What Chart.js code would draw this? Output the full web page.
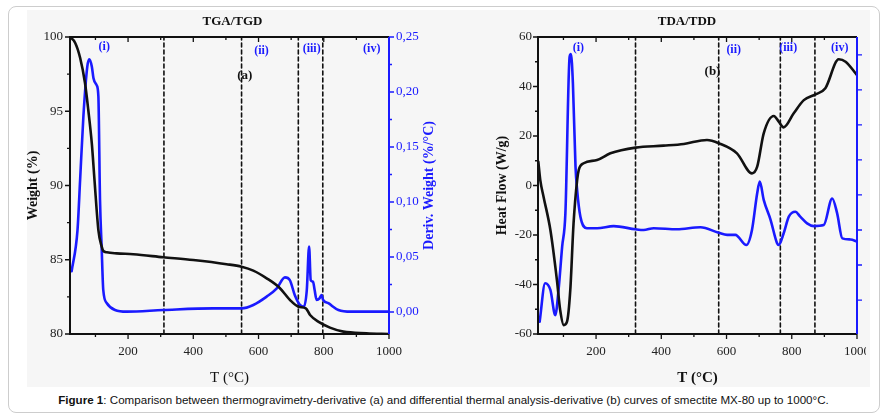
<!DOCTYPE html>
<html>
<head>
<meta charset="utf-8">
<script src="https://cdn.jsdelivr.net/npm/chart.js@4.4.0/dist/chart.umd.min.js"></script>
<style>
  body { margin: 0; background: #fff; }
  #wrap { position: relative; width: 887px; height: 419px; overflow: hidden; }
  #box { position: absolute; left: 8px; top: 6px; width: 870px; height: 405px; border: 1px solid #cdcdcd; border-radius: 8px; }
  #bg { position: absolute; left: 27px; top: 10px; width: 843px; height: 377px; background: #f6f6f6; }
  .clip { position: absolute; top: 0; height: 386px; overflow: hidden; }
  #w1 { left: 0; width: 437px; }
  #w2 { left: 437px; width: 429px; }
  #cap { position: absolute; left: 0; width: 887px; top: 393px; text-align: center;
         font: 11.6px "Liberation Sans", Arial, sans-serif; color: #111; }
</style>
</head>
<body>
<div id="wrap">
  <div id="box"></div>
  <div id="bg"></div>
  <div class="clip" id="w1"><canvas id="tgaChart" width="440" height="387"></canvas></div>
  <div class="clip" id="w2"><canvas id="dtaChart" width="443" height="387"></canvas></div>
  <div id="cap"><b>Figure 1</b>: Comparison between thermogravimetry-derivative (a) and differential thermal analysis-derivative (b) curves of smectite MX-80 up to 1000°C.</div>
</div>
<script>
const SERIF = '"Liberation Serif", "Times New Roman", serif';
const BLUE = '#1a1aff';
const T_MIN = 22, T_MAX = 1000;

// (a) TGA / TGD
const tgaTemp   = [22, 38, 53, 68, 78, 89, 97, 109, 119, 124, 135, 165, 216, 308, 400, 502, 548, 584, 625, 665, 696, 722, 745, 758, 783, 819, 860, 931, 1000];
const tgaWeight = [100, 99.6, 98.6, 96.9, 95.1, 92.8, 90.4, 87.0, 85.9, 85.6, 85.5, 85.43, 85.37, 85.17, 84.98, 84.7, 84.53, 84.27, 83.75, 83.1, 82.3, 81.84, 81.73, 81.28, 80.83, 80.43, 80.16, 80.05, 80.0];
const tgdTemp   = [27, 45, 53, 63, 75, 81, 89, 94, 104, 109, 114, 119, 124, 135, 160, 196, 308, 461, 548, 584, 625, 656, 681, 696, 711, 727, 739, 748, 755, 760, 767, 772, 778, 787, 793, 798, 814, 845, 884, 1000];
const tgdValue  = [0.037, 0.0745, 0.12, 0.1775, 0.223, 0.2297, 0.223, 0.2125, 0.206, 0.196, 0.102, 0.059, 0.02, 0.008, 0.0018, 0.0003, 0.0018, 0.0033, 0.0033, 0.0064, 0.014, 0.0215, 0.0315, 0.029, 0.0155, 0.0064, 0.0048, 0.02, 0.0594, 0.029, 0.0276, 0.02, 0.011, 0.0124, 0.0155, 0.011, 0.008, 0.0018, 0.0003, 0.0003];
const tgaSplits = [310, 548, 722, 797];
const tgaStageT = [127, 609, 763, 947];
const tgaStageY = [99.3, 99.05, 99.2, 99.2];

// (b) TDA / TDD
const tdaTemp = [23, 29, 39, 60, 80, 90, 101, 111, 121, 131, 142, 147, 162, 203, 244, 321, 407, 469, 540, 576, 632, 678, 694, 714, 745, 760, 775, 806, 837, 873, 903, 944, 965, 1000];
const tdaHeat = [9.6, 2.2, -4.5, -18, -38.2, -50.3, -56.4, -55, -42.2, -15.3, 2.2, 6.3, 9, 10.3, 13, 15.3, 16.1, 16.8, 18.4, 17.1, 13, 4.9, 7.6, 21.1, 28.1, 25.8, 23.5, 29.2, 34.5, 36.8, 39.3, 51, 50, 44.6];
const tddTemp = [27, 44, 60, 75, 85, 96, 106, 119, 123, 129, 137, 142, 152, 172, 203, 254, 321, 346, 377, 448, 520, 576, 602, 627, 661, 678, 694, 702, 714, 735, 755, 760, 775, 791, 811, 826, 847, 868, 898, 924, 939, 955, 980, 1000];
const tddValue = [-0.62, 0.48, 0.29, -0.43, 0.29, 1.52, 2.48, 6.95, 7.02, 6.19, 3.81, 3.14, 2.38, 2.05, 2.05, 2.11, 2.02, 2.0, 2.05, 2.02, 2.08, 1.92, 1.86, 1.86, 1.57, 2.0, 3.05, 3.38, 2.86, 2.29, 1.62, 1.57, 1.9, 2.38, 2.52, 2.38, 2.19, 2.11, 2.14, 2.9, 2.48, 1.76, 1.73, 1.67];
const tdaSplits = [321, 576, 765, 871];
const tdaStageT = [146, 622, 789, 947];
const tdaStageY = [55.6, 54.7, 55.6, 55.6];

const stageNames = ['(i)', '(ii)', '(iii)', '(iv)'];

// tick values
const tempMajor   = [200, 400, 600, 800, 1000];
const tempMinor   = [100, 300, 500, 700, 900];
const weightMajor = [80, 85, 90, 95, 100];
const weightMinor = [82.5, 87.5, 92.5, 97.5];
const derivMajor  = [0, 0.05, 0.10, 0.15, 0.20, 0.25];
const derivMinor  = [0.025, 0.075, 0.125, 0.175, 0.225];
const heatMajor   = [-60, -40, -20, 0, 20, 40, 60];
const heatMinor   = [-50, -30, -10, 10, 30, 50];
const tddTicks    = [0, 1, 2, 3, 4, 5, 6, 7];

function pts(xs, ys) { return xs.map((x, i) => ({ x: x, y: ys[i] })); }

function splitLines(list, lo, hi) {
  return list.map(t => ({
    data: [{ x: t, y: lo }, { x: t, y: hi }],
    borderColor: '#111', borderWidth: 1.6, borderDash: [4, 3],
    pointRadius: 0, yAxisID: 'y'
  }));
}

// frame, tick marks, stage labels and the rotated right title
function framePlugin(cfg) {
  return {
    id: 'frame',
    afterDatasetsDraw(chart) {
      const { ctx, chartArea: a, scales } = chart;
      const x = scales.x, y = scales.y, y1 = scales.y1;
      ctx.save();
      ctx.lineCap = 'butt';
      ctx.strokeStyle = '#111';
      ctx.lineWidth = 1.3;
      ctx.beginPath();
      const xt = (list, len) => list.forEach(v => {
        const p = x.getPixelForValue(v);
        ctx.moveTo(p, a.bottom); ctx.lineTo(p, a.bottom + len);
        ctx.moveTo(p, a.top); ctx.lineTo(p, a.top + len);
      });
      xt(tempMajor, 5); xt(tempMinor, 3);
      const yt = (list, len) => list.forEach(v => {
        const p = y.getPixelForValue(v);
        ctx.moveTo(a.left, p); ctx.lineTo(a.left - len, p);
      });
      yt(cfg.yMajor, 5); yt(cfg.yMinor, 3);
      ctx.stroke();
      ctx.lineWidth = 2;
      ctx.beginPath();
      ctx.moveTo(a.right, a.top); ctx.lineTo(a.left, a.top);
      ctx.lineTo(a.left, a.bottom); ctx.lineTo(a.right, a.bottom);
      ctx.stroke();

      ctx.strokeStyle = BLUE;
      ctx.lineWidth = 1.3;
      ctx.beginPath();
      cfg.y1Major.forEach(v => { const p = y1.getPixelForValue(v); ctx.moveTo(a.right, p); ctx.lineTo(a.right + 5, p); });
      cfg.y1Minor.forEach(v => { const p = y1.getPixelForValue(v); ctx.moveTo(a.right, p); ctx.lineTo(a.right + 3, p); });
      ctx.stroke();
      ctx.lineWidth = 2;
      ctx.beginPath();
      ctx.moveTo(a.right, a.top); ctx.lineTo(a.right, a.bottom);
      ctx.stroke();

      ctx.textAlign = 'center';
      ctx.textBaseline = 'middle';
      ctx.fillStyle = BLUE;
      ctx.font = 'bold 12px ' + SERIF;
      stageNames.forEach((s, i) => {
        ctx.fillText(s, x.getPixelForValue(cfg.stageT[i]), y.getPixelForValue(cfg.stageY[i]));
      });
      ctx.fillStyle = '#111';
      ctx.font = 'bold 13px ' + SERIF;
      ctx.fillText(cfg.tag[0], x.getPixelForValue(cfg.tag[1]), y.getPixelForValue(cfg.tag[2]));

      if (cfg.rightTitle) {
        ctx.translate(a.right + 40, (a.top + a.bottom) / 2);
        ctx.rotate(-Math.PI / 2);
        ctx.fillStyle = BLUE;
        ctx.font = 'bold 14px ' + SERIF;
        ctx.fillText(cfg.rightTitle, 0, 0);
      }
      ctx.restore();
    }
  };
}

function makeChart(id, cfg) {
  const tickFont = { family: SERIF, size: 13 };
  return new Chart(document.getElementById(id), {
    type: 'line',
    data: { datasets: cfg.datasets },
    options: {
      responsive: false,
      animation: false,
      events: [],
      layout: { padding: { left: cfg.padLeft, right: 0, top: 0, bottom: 0 } },
      elements: { line: { borderCapStyle: 'round', borderJoinStyle: 'round' } },
      plugins: {
        legend: { display: false },
        tooltip: { enabled: false },
        title: {
          display: true, text: cfg.title, color: '#111',
          font: { family: SERIF, size: 13, weight: 'bold' },
          padding: { top: 14, bottom: 7.4 }
        }
      },
      scales: {
        x: {
          type: 'linear', min: T_MIN, max: T_MAX,
          grid: { display: false, drawTicks: false }, border: { display: false },
          ticks: { font: tickFont, color: '#222', padding: 10, maxRotation: 0,
                   callback: v => String(v) },
          afterBuildTicks: s => { s.ticks = tempMajor.map(v => ({ value: v })); },
          afterFit: s => { s.height = 53; },
          title: { display: true, text: 'T (°C)', color: '#111', padding: 0,
                   font: { family: SERIF, size: 15, weight: cfg.xTitleWeight } }
        },
        y: {
          position: 'left', min: cfg.yMin, max: cfg.yMax,
          grid: { display: false, drawTicks: false }, border: { display: false },
          ticks: { font: tickFont, color: '#222', padding: cfg.yPad },
          afterBuildTicks: s => { s.ticks = cfg.yMajor.map(v => ({ value: v })); },
          afterFit: s => { s.width = cfg.yWidth; },
          title: { display: true, text: cfg.yTitle, color: '#111', padding: 0,
                   font: { family: SERIF, size: 14, weight: 'bold' } }
        },
        y1: {
          position: 'right', min: cfg.y1Min, max: cfg.y1Max,
          grid: { display: false, drawTicks: false }, border: { display: false },
          ticks: { display: cfg.y1Labels, font: tickFont, color: BLUE, padding: 7,
                   callback: v => v.toFixed(2).replace('.', ',') },
          afterBuildTicks: s => { s.ticks = cfg.y1Major.map(v => ({ value: v })); },
          afterFit: s => { s.width = cfg.y1Width; }
        }
      }
    },
    plugins: [framePlugin(cfg)]
  });
}

makeChart('tgaChart', {
  title: 'TGA/TGD', padLeft: 25, yWidth: 45, y1Width: 51, yPad: 7,
  yMin: 80, yMax: 100, y1Min: -0.02, y1Max: 0.25, y1Labels: true,
  yTitle: 'Weight (%)', xTitleWeight: 'normal', rightTitle: 'Deriv. Weight (%/°C)',
  yMajor: weightMajor, yMinor: weightMinor, y1Major: derivMajor, y1Minor: derivMinor,
  stageT: tgaStageT, stageY: tgaStageY, tag: ['(a)', 558, 97.4],
  datasets: [
    { data: pts(tgaTemp, tgaWeight), borderColor: '#111', borderWidth: 2.6, pointRadius: 0,
      cubicInterpolationMode: 'monotone', yAxisID: 'y' },
    { data: pts(tgdTemp, tgdValue), borderColor: BLUE, borderWidth: 2.6, pointRadius: 0,
      cubicInterpolationMode: 'monotone', yAxisID: 'y1' }
  ].concat(splitLines(tgaSplits, 80, 100))
});

makeChart('dtaChart', {
  title: 'TDA/TDD', padLeft: 57, yWidth: 44, y1Width: 23, yPad: 6,
  yMin: -60, yMax: 60, y1Min: -0.97, y1Max: 7.51, y1Labels: false,
  yTitle: 'Heat Flow (W/g)', xTitleWeight: 'bold', rightTitle: null,
  yMajor: heatMajor, yMinor: heatMinor, y1Major: tddTicks, y1Minor: [],
  stageT: tdaStageT, stageY: tdaStageY, tag: ['(b)', 557, 45.9],
  datasets: [
    { data: pts(tdaTemp, tdaHeat), borderColor: '#111', borderWidth: 2.6, pointRadius: 0,
      cubicInterpolationMode: 'monotone', yAxisID: 'y' },
    { data: pts(tddTemp, tddValue), borderColor: BLUE, borderWidth: 2.6, pointRadius: 0,
      cubicInterpolationMode: 'monotone', yAxisID: 'y1' }
  ].concat(splitLines(tdaSplits, -60, 60))
});
</script>
</body>
</html>
